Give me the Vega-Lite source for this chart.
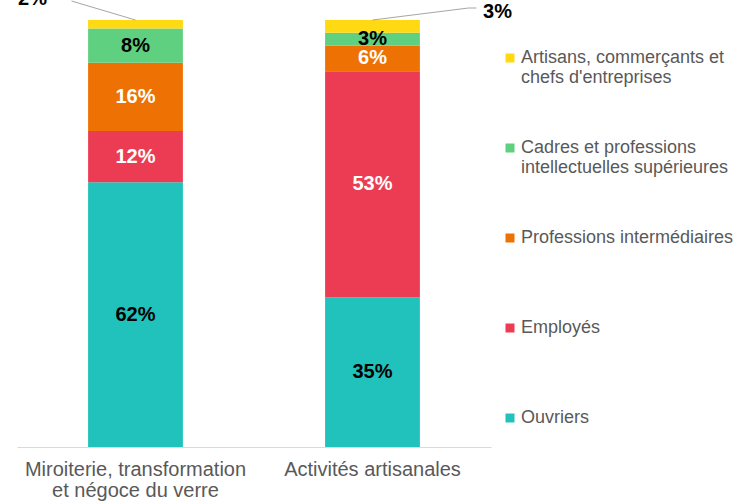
{
  "$schema": "https://vega.github.io/schema/vega-lite/v6.json",
  "width": 474,
  "height": 427,
  "autosize": {"type": "none"},
  "padding": {"left": 17, "top": 20, "right": 247, "bottom": 56},
  "background": "white",
  "config": {"view": {"stroke": null}, "font": "Liberation Sans"},
  "data": {"values": [
    {"secteur": "Miroiterie, transformation et négoce du verre", "categorie": "Ouvriers", "valeur": 62, "rang": 1},
    {"secteur": "Miroiterie, transformation et négoce du verre", "categorie": "Employés", "valeur": 12, "rang": 2},
    {"secteur": "Miroiterie, transformation et négoce du verre", "categorie": "Professions intermédiaires", "valeur": 16, "rang": 3},
    {"secteur": "Miroiterie, transformation et négoce du verre", "categorie": "Cadres et professions intellectuelles supérieures", "valeur": 8, "rang": 4},
    {"secteur": "Miroiterie, transformation et négoce du verre", "categorie": "Artisans, commerçants et chefs d'entreprises", "valeur": 2, "rang": 5},
    {"secteur": "Activités artisanales", "categorie": "Ouvriers", "valeur": 35, "rang": 1},
    {"secteur": "Activités artisanales", "categorie": "Employés", "valeur": 53, "rang": 2},
    {"secteur": "Activités artisanales", "categorie": "Professions intermédiaires", "valeur": 6, "rang": 3},
    {"secteur": "Activités artisanales", "categorie": "Cadres et professions intellectuelles supérieures", "valeur": 3, "rang": 4},
    {"secteur": "Activités artisanales", "categorie": "Artisans, commerçants et chefs d'entreprises", "valeur": 3, "rang": 5}
  ]},
  "transform": [
    {"stack": "valeur", "groupby": ["secteur"], "sort": [{"field": "rang", "order": "ascending"}], "as": ["y0", "y1"]},
    {"calculate": "(datum.y0 + datum.y1) / 2", "as": "mid"},
    {"calculate": "datum.valeur + '%'", "as": "etiquette"}
  ],
  "encoding": {
    "x": {
      "field": "secteur", "type": "nominal",
      "sort": ["Miroiterie, transformation et négoce du verre", "Activités artisanales"],
      "scale": {"paddingInner": 0.6, "paddingOuter": 0.3},
      "axis": {
        "title": null, "labelAngle": 0, "ticks": false,
        "domainColor": "#D9D9D9", "domainWidth": 1,
        "labelColor": "#595959", "labelFontSize": 20, "labelFont": "Liberation Sans",
        "labelPadding": 12, "labelLineHeight": 21, "labelLimit": 400,
        "labelExpr": "datum.label == 'Miroiterie, transformation et négoce du verre' ? ['Miroiterie, transformation', 'et négoce du verre'] : datum.label"
      }
    }
  },
  "layer": [
    {
      "mark": {"type": "bar"},
      "encoding": {
        "y": {"field": "y1", "type": "quantitative", "scale": {"domain": [0, 100], "nice": false}, "axis": null},
        "y2": {"field": "y0"},
        "color": {
          "field": "categorie", "type": "nominal",
          "scale": {
            "domain": ["Artisans, commerçants et chefs d'entreprises", "Cadres et professions intellectuelles supérieures", "Professions intermédiaires", "Employés", "Ouvriers"],
            "range": ["#FFD911", "#5FD07F", "#EE7103", "#EC3C53", "#20C2BB"]
          },
          "legend": {
            "title": null, "orient": "none", "legendX": 484, "legendY": 29,
            "symbolType": "square", "symbolSize": 81, "symbolStrokeWidth": 0,
            "labelFontSize": 18, "labelColor": "#595959", "labelFont": "Liberation Sans",
            "labelLimit": 400, "rowPadding": 52, "labelOffset": 2, "labelLineHeight": 21,
            "labelBaseline": "middle",
            "labelExpr": "datum.label == \"Artisans, commerçants et chefs d'entreprises\" ? ['Artisans, commerçants et', \"chefs d'entreprises\"] : datum.label == 'Cadres et professions intellectuelles supérieures' ? ['Cadres et professions', 'intellectuelles supérieures'] : [datum.label, ' ']"
          }
        },
        "order": {"field": "rang", "type": "quantitative"}
      }
    },
    {
      "transform": [{"filter": "datum.rang < 5"}],
      "mark": {"type": "text", "font": "Liberation Sans", "fontWeight": "bold", "fontSize": 20, "baseline": "middle"},
      "encoding": {
        "y": {"field": "mid", "type": "quantitative"},
        "text": {"field": "etiquette"},
        "color": {"condition": {"test": "datum.rang == 2 || datum.rang == 3", "value": "white"}, "value": "black"}
      }
    },
    {
      "transform": [{"filter": "datum.rang == 5 && datum.secteur == 'Miroiterie, transformation et négoce du verre'"}],
      "mark": {"type": "text", "font": "Liberation Sans", "fontWeight": "bold", "fontSize": 20, "baseline": "alphabetic", "dx": -103, "dy": -15, "color": "black"},
      "encoding": {
        "y": {"field": "y1", "type": "quantitative"},
        "text": {"field": "etiquette"}
      }
    },
    {
      "transform": [{"filter": "datum.rang == 5 && datum.secteur == 'Activités artisanales'"}],
      "mark": {"type": "text", "font": "Liberation Sans", "fontWeight": "bold", "fontSize": 20, "baseline": "alphabetic", "dx": 125, "dy": -2, "color": "black"},
      "encoding": {
        "y": {"field": "y1", "type": "quantitative"},
        "text": {"field": "etiquette"}
      }
    },
    {
      "transform": [{"filter": "datum.rang == 5 && datum.secteur == 'Miroiterie, transformation et négoce du verre'"}],
      "mark": {"type": "rule", "color": "#A6A6A6", "strokeWidth": 1, "x2Offset": -64, "y2Offset": -19},
      "encoding": {
        "y": {"field": "y1", "type": "quantitative"},
        "x2": {"field": "secteur"},
        "y2": {"field": "y1"}
      }
    },
    {
      "transform": [{"filter": "datum.rang == 5 && datum.secteur == 'Activités artisanales'"}],
      "mark": {"type": "rule", "color": "#A6A6A6", "strokeWidth": 1, "x2Offset": 96, "y2Offset": -12},
      "encoding": {
        "y": {"field": "y1", "type": "quantitative"},
        "x2": {"field": "secteur"},
        "y2": {"field": "y1"}
      }
    },
    {
      "transform": [{"filter": "datum.rang == 5 && datum.secteur == 'Activités artisanales'"}],
      "mark": {"type": "rule", "color": "#A6A6A6", "strokeWidth": 1, "xOffset": 96, "yOffset": -12, "x2Offset": 104, "y2Offset": -12},
      "encoding": {
        "y": {"field": "y1", "type": "quantitative"},
        "x2": {"field": "secteur"},
        "y2": {"field": "y1"}
      }
    }
  ]
}
